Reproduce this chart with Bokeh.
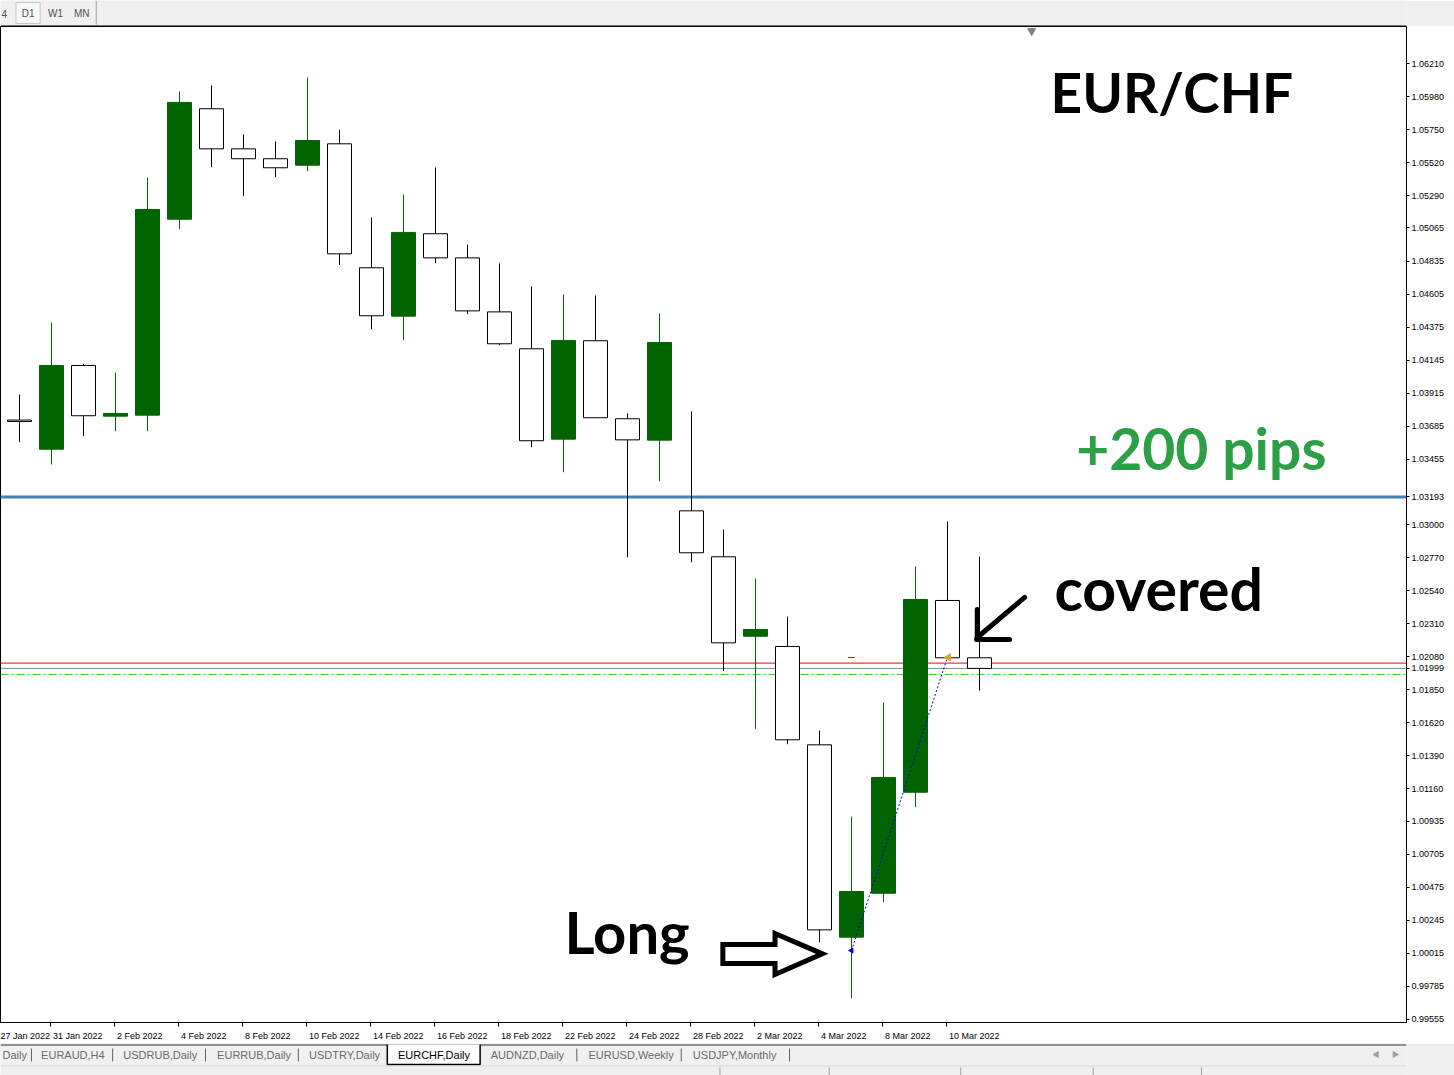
import numpy as np
from bokeh.plotting import figure
from bokeh.models import (Range1d, FixedTicker, NumeralTickFormatter, CustomJSTickFormatter,
                          ColumnDataSource, Span)
from bokeh.layouts import column
from bokeh.embed import file_html
from bokeh.resources import INLINE
from bokeh.core.properties import value

# ---------------- data ----------------
dates = ["28 Jan", "31 Jan", "1 Feb", "2 Feb", "3 Feb", "4 Feb", "7 Feb", "8 Feb", "9 Feb",
         "10 Feb", "11 Feb", "14 Feb", "15 Feb", "16 Feb", "17 Feb", "18 Feb", "21 Feb",
         "22 Feb", "23 Feb", "24 Feb", "25 Feb", "28 Feb", "1 Mar", "2 Mar", "3 Mar",
         "4 Mar", "7 Mar", "8 Mar", "9 Mar", "10 Mar", "11 Mar"]
opens = [1.03728, 1.03525, 1.04108, 1.03755, 1.03762, 1.05126, 1.05895, 1.05616, 1.05547,
         1.05502, 1.05651, 1.04788, 1.04451, 1.05025, 1.04857, 1.04481, 1.04224, 1.03595,
         1.04280, 1.03737, 1.03588, 1.03096, 1.02776, 1.02223, 1.02152, 1.01467, 1.00128,
         1.00434, 1.01137, 1.02472, 1.02073]
highs = [1.03906, 1.04407, 1.04120, 1.04059, 1.05416, 1.06015, 1.06057, 1.05716, 1.05667,
         1.06113, 1.05748, 1.05138, 1.05298, 1.05486, 1.04950, 1.04818, 1.04658, 1.04602,
         1.04595, 1.03774, 1.04470, 1.03788, 1.02966, 1.02625, 1.02360, 1.01567, 1.00968,
         1.01762, 1.02709, 1.03022, 1.02778]
lows = [1.03574, 1.03419, 1.03616, 1.03650, 1.03650, 1.05057, 1.05488, 1.05286, 1.05419,
        1.05460, 1.04807, 1.04360, 1.04284, 1.04820, 1.04465, 1.04249, 1.03539, 1.03365,
        1.03744, 1.02773, 1.03302, 1.02738, 1.01980, 1.01576, 1.01471, 1.00093, 0.99703,
        1.00372, 1.01033, 1.02073, 1.01845]
closes = [1.03718, 1.04108, 1.03758, 1.03774, 1.05194, 1.05939, 1.05616, 1.05547, 1.05484,
          1.05674, 1.04885, 1.04454, 1.05034, 1.04857, 1.04488, 1.04259, 1.03584, 1.04282,
          1.03744, 1.03590, 1.04268, 1.02804, 1.02177, 1.02270, 1.01502, 1.00179, 1.00446,
          1.01240, 1.02479, 1.02073, 1.01999]

y_ticks = [1.06210, 1.05980, 1.05750, 1.05520, 1.05290, 1.05065, 1.04835, 1.04605, 1.04375,
           1.04145, 1.03915, 1.03685, 1.03455, 1.03225, 1.03000, 1.02770, 1.02540, 1.02310,
           1.02080, 1.01850, 1.01620, 1.01390, 1.01160, 1.00935, 1.00705, 1.00475, 1.00245,
           1.00015, 0.99785, 0.99555]

x_tick_idx = [-1, 1, 3, 5, 7, 9, 11, 13, 15, 17, 19, 21, 23, 25, 27, 29]
x_tick_labels = ["27 Jan 2022", "31 Jan 2022", "2 Feb 2022", "4 Feb 2022", "8 Feb 2022",
                 "10 Feb 2022", "14 Feb 2022", "16 Feb 2022", "18 Feb 2022", "22 Feb 2022",
                 "24 Feb 2022", "28 Feb 2022", "2 Mar 2022", "4 Mar 2022", "8 Mar 2022",
                 "10 Mar 2022"]

level_blue = 1.03193
level_red = 1.02036
level_bid = 1.01999
level_green = 1.01957
order_mark = 1.02075
trade_x = [26, 29]
trade_y = [1.00035, 1.02077]

tabs = ["Daily", "EURAUD,H4", "USDRUB,Daily", "EURRUB,Daily", "USDTRY,Daily",
        "EURCHF,Daily", "AUDNZD,Daily", "EURUSD,Weekly", "USDJPY,Monthly"]

# ---------------- main chart ----------------
GREEN = "#006400"
AXF = "Liberation Sans"
W = 1454
RB = 48
H = 1017
x0, x1 = -0.594, 43.344
p = figure(width=W, height=H, x_range=Range1d(x0, x1), y_range=Range1d(0.995341, 1.064676),
           toolbar_location=None, output_backend="svg", y_axis_location="right",
           min_border_left=0, min_border_right=RB, min_border_top=0, min_border_bottom=21)
p.xgrid.visible = False
p.ygrid.visible = False
p.background_fill_color = "white"
p.border_fill_color = "white"
p.outline_line_color = "black"

# horizontal levels (under candles)
p.add_layout(Span(location=level_blue, dimension="width", line_color="#4682B4", line_width=3, level="underlay"))
p.add_layout(Span(location=level_red, dimension="width", line_color="#FF0000", line_width=1, level="underlay"))
p.add_layout(Span(location=level_bid, dimension="width", line_color="#778899", line_width=1, level="underlay"))
p.add_layout(Span(location=level_green, dimension="width", line_color="#32CD32", line_width=1,
                  line_dash="8 3 2 3", level="underlay"))

idx = np.arange(len(dates))
o, h, l, c = map(np.array, (opens, highs, lows, closes))
bull = c > o
src_up = ColumnDataSource(dict(x=idx[bull], h=h[bull], l=l[bull], top=c[bull], bot=o[bull]))
src_dn = ColumnDataSource(dict(x=idx[~bull], h=h[~bull], l=l[~bull], top=o[~bull], bot=c[~bull]))

p.segment(x0="x", y0="l", x1="x", y1="h", source=src_dn, line_color="black", line_width=1)
p.vbar(x="x", top="top", bottom="bot", width=0.75, source=src_dn, fill_color="white",
       line_color="black", line_width=1)
p.segment(x0="x", y0="l", x1="x", y1="h", source=src_up, line_color=GREEN, line_width=1)
p.vbar(x="x", top="top", bottom="bot", width=0.75, source=src_up, fill_color=GREEN,
       line_color=GREEN, line_width=1)

# order marker and trade line
p.segment(x0=[trade_x[0] - 0.11], y0=[order_mark], x1=[trade_x[0] + 0.11], y1=[order_mark],
          line_color="#FF0000", line_width=1)
p.line(trade_x, trade_y, line_color="#0000FF", line_width=1, line_dash="2 2")
p.scatter([trade_x[0]], [trade_y[0]], marker="triangle", size=5, angle=np.pi / 2,
          color="#0000FF")
p.scatter([trade_x[1] + 0.03], [trade_y[1]], marker="triangle", size=7, angle=np.pi / 2,
          color="#DAA520")
# shift marker on top
p.scatter([31.63], [1.06437], marker="inverted_triangle", size=8, color="#808080")

# hollow arrow pointing at the entry
p.patch([21.98, 23.61, 23.61, 25.09, 23.61, 23.61, 21.98],
        [1.00077, 1.00077, 1.00154, 1.00012, 0.99868, 0.99945, 0.99945],
        fill_color="white", line_color="black", line_width=5, line_join="miter")
# hand drawn arrow
p.multi_line([[31.41, 29.93], [29.93, 29.93], [29.91, 30.94]],
             [[1.02493, 1.02214], [1.02409, 1.02200], [1.02200, 1.02200]],
             line_color="black", line_width=5, line_cap="round")

big = dict(text_font=value("Lato"), text_font_style="bold",
           text_baseline="alphabetic", text_align="left")
p.text(x=[32.22], y=[1.06015], text=["EUR/CHF"], text_color="black", text_font_size="55px", **big)
p.text(x=[33.02], y=[1.03530], text=["+200 pips"], text_color="#2D9F46", text_font_size="57px", **big)
p.text(x=[32.34], y=[1.02555], text=["covered"], text_color="black", text_font_size="59px", **big)
p.text(x=[17.03], y=[1.00167], text=["Long"], text_color="black", text_font_size="58px", **big)

# right price scale: regular ticks plus the line / bid price tags
axis_ticks = [t for t in y_ticks if abs(t - level_blue) > 0.0005] + [level_blue, level_bid]
ya = p.yaxis[0]
ya.ticker = FixedTicker(ticks=axis_ticks)
ya.formatter = NumeralTickFormatter(format="0.00000")
ya.major_label_text_font = AXF
ya.major_label_text_font_size = "9px"
ya.major_label_text_color = "black"
ya.major_tick_out = 3
ya.major_tick_in = 0
ya.minor_tick_out = 0
ya.minor_tick_in = 0
ya.major_label_standoff = 2
ya.axis_line_color = "black"

cw = {"0": .556, "1": .556, "2": .556, "3": .556, "4": .556, "5": .556, "6": .556, "7": .556,
      "8": .556, "9": .556, " ": .278, "J": .5, "a": .556, "n": .556, "F": .611, "e": .556,
      "b": .556, "M": .833, "r": .333}
px_per_idx = (W - RB) / (x1 - x0)
centers = [i + (1.5 + 9 * sum(cw.get(ch, .556) for ch in s) / 2) / px_per_idx
           for i, s in zip(x_tick_idx, x_tick_labels)]
xa = p.xaxis[0]
xa.ticker = FixedTicker(ticks=centers, minor_ticks=[i - 0.03 for i in x_tick_idx])
xa.formatter = CustomJSTickFormatter(args=dict(centers=centers, labels=x_tick_labels), code="""
let best = 0, bd = 1e9;
for (let i = 0; i < centers.length; i++) {
  const d = Math.abs(centers[i] - tick);
  if (d < bd) { bd = d; best = i; }
}
return labels[best];
""")
xa.major_label_text_font = AXF
xa.major_label_text_font_size = "9px"
xa.major_label_text_color = "black"
xa.major_tick_out = 0
xa.major_tick_in = 0
xa.minor_tick_out = 4
xa.minor_tick_in = 0
xa.minor_tick_line_color = "black"
xa.major_label_standoff = 4
xa.axis_line_color = "black"

# ---------------- top bar ----------------
top = figure(width=W, height=26, x_range=Range1d(0, W), y_range=Range1d(26, 0),
             toolbar_location=None, output_backend="svg", x_axis_location=None,
             y_axis_location=None, min_border=0)
top.xgrid.visible = False
top.ygrid.visible = False
top.outline_line_color = None
top.background_fill_color = "#F0F0F0"
top.border_fill_color = "#F0F0F0"
top.quad(left=[16], right=[41], top=[2], bottom=[23], fill_color="#F8F8F8", line_color="#C8C8C8")
top.segment(x0=[99], y0=[0], x1=[99], y1=[24], line_color="#A0A0A0")
top.segment(x0=[0], y0=[25.5], x1=[W], y1=[25.5], line_color="black", line_width=1)
top.text(x=[1, 28.5, 57, 84], y=[13, 13, 13, 13], text=["4", "D1", "W1", "MN"],
         text_align=["left", "center", "center", "center"], text_baseline="middle",
         text_font=value("Liberation Sans"), text_font_size="10px", text_color="#505050")

# ---------------- bottom tabs ----------------
bot = figure(width=W, height=32, x_range=Range1d(0, W), y_range=Range1d(32, 0),
             toolbar_location=None, output_backend="svg", x_axis_location=None,
             y_axis_location=None, min_border=0)
bot.xgrid.visible = False
bot.ygrid.visible = False
bot.outline_line_color = None
bot.background_fill_color = "#F0F0F0"
bot.border_fill_color = "#F0F0F0"
bot.segment(x0=[0], y0=[1.5], x1=[W], y1=[1.5], line_color="#303030", line_width=1)
bot.quad(left=[400], right=[496], top=[1], bottom=[21], fill_color="white", line_color=None)
bot.multi_line([[400, 400, 496, 496]], [[1, 21, 21, 1]], line_color="black", line_width=1.5)
bot.segment(x0=[0], y0=[22.5], x1=[W], y1=[22.5], line_color="#D8D8D8", line_width=1)
tab_x = [2, 42, 127, 224, 319, 411, 507, 608, 716]
tab_col = ["#6A6A6A"] * 5 + ["black"] + ["#6A6A6A"] * 3
bot.text(x=tab_x, y=[11.5] * 9, text=tabs, text_align="left",
         text_baseline="middle", text_font=value("Liberation Sans"), text_font_size="11px",
         text_color=tab_col)
sep_x = [32, 116, 212, 308, 596, 704, 816]
bot.segment(x0=sep_x, y0=[5] * 7, x1=sep_x, y1=[18] * 7, line_color="#606060")
bot.scatter([1423, 1442], [11, 11], marker="triangle", size=6, angle=[np.pi / 2, -np.pi / 2],
            color="#A0A0A0")
stat_sep = [744, 857, 993, 1130, 1242]
bot.segment(x0=stat_sep, y0=[24] * 5, x1=stat_sep, y1=[32] * 5, line_color="#A0A0A0")

layout = column(top, p, bot, spacing=0)
open("out.html", "w").write(file_html(layout, INLINE))
